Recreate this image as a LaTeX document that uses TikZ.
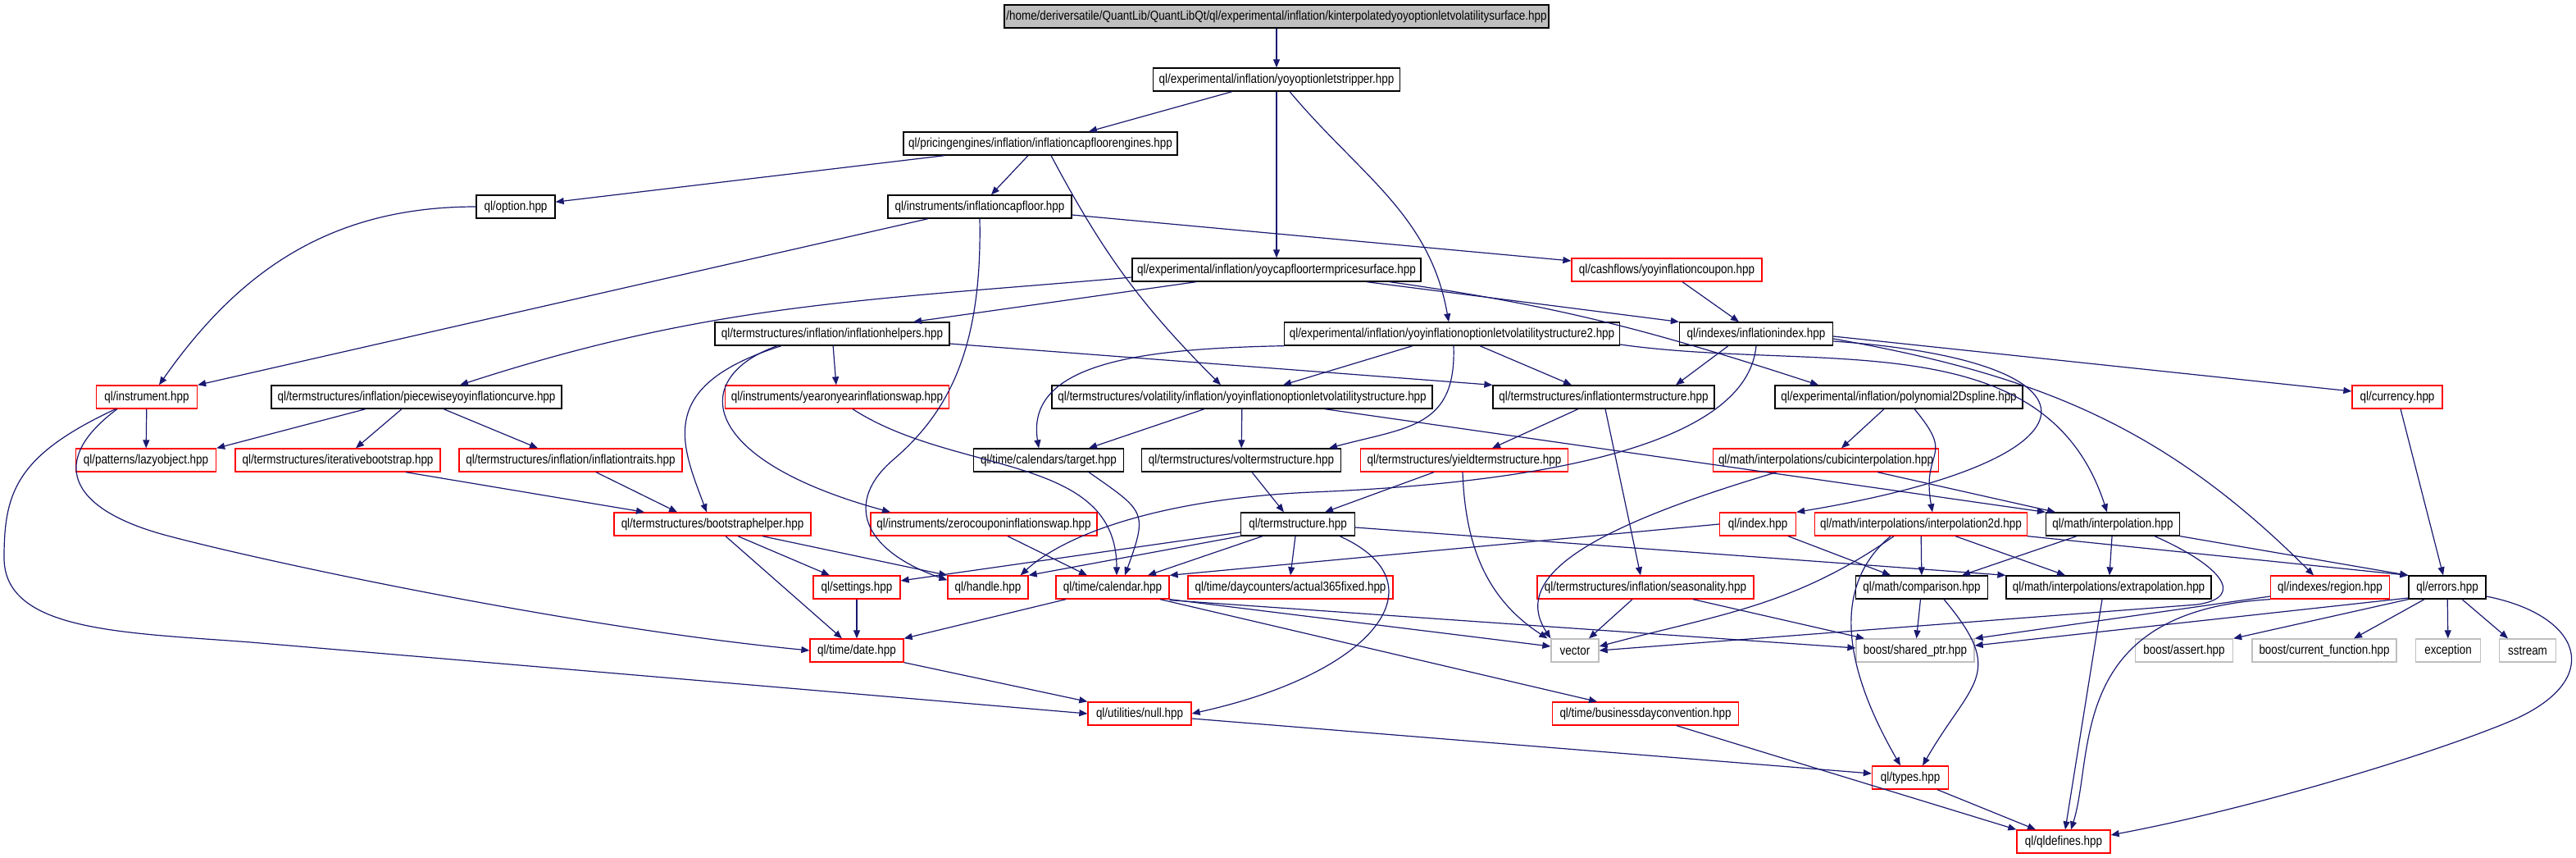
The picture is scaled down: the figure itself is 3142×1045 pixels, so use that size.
\documentclass[tikz,border=0pt]{standalone}
\usepackage{fontspec}
\setmainfont{Liberation Sans}[FakeStretch=0.85]
\usepackage{xcolor}
\definecolor{cEdge}{HTML}{191970}
\definecolor{cRed}{HTML}{FF0000}
\definecolor{cGray}{HTML}{BFBFBF}
\usetikzlibrary{arrows.meta}
\tikzset{
  node-file/.style={draw=black,line width=1.3pt,minimum height=28pt,inner sep=1pt,
    anchor=center,font=\fontsize{15.8}{18}\selectfont},
  % red frame: header with further includes not drawn; gray frame: system header
  node-red/.style={node-file,draw=cRed},
  node-sys/.style={node-file,draw=cGray},
  node-top/.style={node-file,fill=cGray},
  arrow/.style={-{Triangle[length=10pt,width=8pt]},line width=1.2pt,draw=cEdge},
}
\begin{document}
\begin{tikzpicture}[x=1pt,y=-1pt]
  \useasboundingbox (0,0) rectangle (3142,1045);
  \node[node-top,minimum width=664pt] (kinterp) at (1557,20) {/home/deriversatile/QuantLib/QuantLibQt/ql/experimental/inflation/kinterpolatedyoyoptionletvolatilitysurface.hpp};
  \node[node-file,minimum width=301pt] (stripper) at (1557,97) {ql/experimental/inflation/yoyoptionletstripper.hpp};
  \node[node-file,minimum width=334pt] (engines) at (1269,175) {ql/pricingengines/inflation/inflationcapfloorengines.hpp};
  \node[node-file,minimum width=96pt] (option) at (629,252) {ql/option.hpp};
  \node[node-file,minimum width=224pt] (capfloor) at (1195,252) {ql/instruments/inflationcapfloor.hpp};
  \node[node-file,minimum width=352pt] (cfsurf) at (1557,329) {ql/experimental/inflation/yoycapfloortermpricesurface.hpp};
  \node[node-red,minimum width=232pt] (coupon) at (2033,329) {ql/cashflows/yoyinflationcoupon.hpp};
  \node[node-file,minimum width=286pt] (helpers) at (1015,407) {ql/termstructures/inflation/inflationhelpers.hpp};
  \node[node-file,minimum width=409pt] (yoyvol2) at (1771,407) {ql/experimental/inflation/yoyinflationoptionletvolatilitystructure2.hpp};
  \node[node-file,minimum width=187pt] (inflindex) at (2142,407) {ql/indexes/inflationindex.hpp};
  \node[node-red,minimum width=123pt] (instrument) at (179,484) {ql/instrument.hpp};
  \node[node-file,minimum width=354pt] (piecewise) at (508,484) {ql/termstructures/inflation/piecewiseyoyinflationcurve.hpp};
  \node[node-red,minimum width=273pt] (yoyswap) at (1021,484) {ql/instruments/yearonyearinflationswap.hpp};
  \node[node-file,minimum width=464pt] (yoyvol) at (1515,484) {ql/termstructures/volatility/inflation/yoyinflationoptionletvolatilitystructure.hpp};
  \node[node-file,minimum width=270pt] (inflts) at (1956,484) {ql/termstructures/inflationtermstructure.hpp};
  \node[node-file,minimum width=302pt] (spline) at (2316,484) {ql/experimental/inflation/polynomial2Dspline.hpp};
  \node[node-red,minimum width=110pt] (currency) at (2924,484) {ql/currency.hpp};
  \node[node-red,minimum width=171pt] (lazy) at (178,561) {ql/patterns/lazyobject.hpp};
  \node[node-red,minimum width=250pt] (iterboot) at (412,561) {ql/termstructures/iterativebootstrap.hpp};
  \node[node-red,minimum width=272pt] (traits) at (696,561) {ql/termstructures/inflation/inflationtraits.hpp};
  \node[node-file,minimum width=183pt] (target) at (1279,561) {ql/time/calendars/target.hpp};
  \node[node-file,minimum width=243pt] (volts) at (1514,561) {ql/termstructures/voltermstructure.hpp};
  \node[node-red,minimum width=253pt] (yieldts) at (1786,561) {ql/termstructures/yieldtermstructure.hpp};
  \node[node-red,minimum width=275pt] (cubic) at (2227,561) {ql/math/interpolations/cubicinterpolation.hpp};
  \node[node-red,minimum width=240pt] (bshelper) at (869,639) {ql/termstructures/bootstraphelper.hpp};
  \node[node-red,minimum width=276pt] (zcswap) at (1200,639) {ql/instruments/zerocouponinflationswap.hpp};
  \node[node-file,minimum width=139pt] (ts) at (1583,639) {ql/termstructure.hpp};
  \node[node-red,minimum width=93pt] (index) at (2144,639) {ql/index.hpp};
  \node[node-red,minimum width=259pt] (interp2d) at (2343,639) {ql/math/interpolations/interpolation2d.hpp};
  \node[node-file,minimum width=163pt] (interp) at (2577,639) {ql/math/interpolation.hpp};
  \node[node-red,minimum width=106pt] (settings) at (1045,716) {ql/settings.hpp};
  \node[node-red,minimum width=98pt] (handle) at (1205,716) {ql/handle.hpp};
  \node[node-red,minimum width=138pt] (calendar) at (1357,716) {ql/time/calendar.hpp};
  \node[node-red,minimum width=250pt] (act365) at (1574,716) {ql/time/daycounters/actual365fixed.hpp};
  \node[node-red,minimum width=264pt] (season) at (2007,716) {ql/termstructures/inflation/seasonality.hpp};
  \node[node-file,minimum width=161pt] (compare) at (2344,716) {ql/math/comparison.hpp};
  \node[node-file,minimum width=250pt] (extrap) at (2572,716) {ql/math/interpolations/extrapolation.hpp};
  \node[node-red,minimum width=145pt] (region) at (2842,716) {ql/indexes/region.hpp};
  \node[node-file,minimum width=94pt] (errors) at (2985,716) {ql/errors.hpp};
  \node[node-red,minimum width=114pt] (date) at (1045,793) {ql/time/date.hpp};
  \node[node-sys,minimum width=58pt] (vector) at (1921,793) {vector};
  \node[node-sys,minimum width=144pt] (sharedptr) at (2336,793) {boost/shared\_ptr.hpp};
  \node[node-sys,minimum width=119pt] (assert) at (2664,793) {boost/assert.hpp};
  \node[node-sys,minimum width=176pt] (curfunc) at (2835,793) {boost/current\_function.hpp};
  \node[node-sys,minimum width=79pt] (exception) at (2986,793) {exception};
  \node[node-sys,minimum width=69pt] (sstream) at (3083,793) {sstream};
  \node[node-red,minimum width=126pt] (null) at (1390,870) {ql/utilities/null.hpp};
  \node[node-red,minimum width=227pt] (bdc) at (2007,870) {ql/time/businessdayconvention.hpp};
  \node[node-red,minimum width=93pt] (types) at (2330,948) {ql/types.hpp};
  \node[node-red,minimum width=114pt] (qldefines) at (2517,1026) {ql/qldefines.hpp};

  \draw[arrow] (kinterp) -- (stripper);
  \draw[arrow] ([xshift=-54pt]stripper.south) -- ([xshift=59pt]engines.north);
  \draw[arrow] (stripper) -- (cfsurf);
  \draw[arrow] ([xshift=16pt]stripper.south) to[out=-50,in=100] ([xshift=-4pt]yoyvol2.north);
  \draw[arrow] ([xshift=-117pt]engines.south) -- (option);
  \draw[arrow] ([xshift=-15pt]engines.south) -- ([xshift=14pt]capfloor.north);
  \draw[arrow] ([xshift=13pt]engines.south) to[out=-62,in=135] ([xshift=-26pt]yoyvol.north);
  \draw[arrow] ([xshift=-63pt]capfloor.south) -- (instrument.north east);
  \draw[arrow] (capfloor.south) .. controls (1198,420) and (1160,500) .. (1090,560)
    .. controls (1030,611) and (1050,670) .. ([yshift=-6pt]handle.north west);
  \draw[arrow] ([yshift=-10pt]capfloor.east) -- ([yshift=11pt]coupon.west);
  \draw[arrow] (option.west) to[out=180,in=55] ([xshift=15pt]instrument.north);
  \draw[arrow] ([yshift=-9pt]cfsurf.west) to[out=185,in=18] ([xshift=53pt]piecewise.north);
  \draw[arrow] ([xshift=-98pt]cfsurf.south) -- ([xshift=99pt]helpers.north);
  \draw[arrow] ([xshift=110pt]cfsurf.south) -- (inflindex.north west);
  \draw[arrow] ([xshift=138pt]cfsurf.south) to[out=-8,in=162] ([xshift=-98pt]spline.north);
  \draw[arrow] ([xshift=19pt]coupon.south) -- ([xshift=-21pt]inflindex.north);
  \draw[arrow] ([xshift=-62pt]helpers.south) .. controls (800,470) and (830,540) .. ([xshift=-7pt]bshelper.north);
  \draw[arrow] ([xshift=-67pt]helpers.south) .. controls (840,460) and (850,560) .. ([xshift=-114pt]zcswap.north);
  \draw[arrow] (helpers) -- (yoyswap);
  \draw[arrow] ([yshift=-12pt]helpers.east) -- (inflts.north west);
  \draw[arrow] ([xshift=-48pt]yoyvol2.south) -- ([xshift=50pt]yoyvol.north);
  \draw[arrow] (yoyvol2.south west) .. controls (1400,425) and (1250,440) .. ([xshift=-12pt]target.north);
  \draw[arrow] ([xshift=34pt]yoyvol2.south) -- ([xshift=-39pt]inflts.north);
  \draw[arrow] ([xshift=2pt]yoyvol2.south) to[out=-88,in=15,looseness=1.3] ([xshift=107pt]volts.north);
  \draw[arrow] ([yshift=-13pt]yoyvol2.east) to[out=-8,in=108] ([xshift=-7pt]interp.north);
  \draw[arrow] ([xshift=-46pt]yoyvol.south) -- ([xshift=49pt]target.north);
  \draw[arrow] (yoyvol) -- (volts);
  \draw[arrow] ([xshift=101pt]yoyvol.south) -- (interp.north west);
  \draw[arrow] ([xshift=-34pt]inflindex.south) -- ([xshift=88pt]inflts.north);
  \draw[arrow] (inflindex.south) .. controls (2130,550) and (1850,590) .. (1600,600)
    .. controls (1420,608) and (1300,650) .. ([xshift=-10pt]handle.north east);
  \draw[arrow] ([yshift=-3pt]inflindex.east) -- ([yshift=7pt]currency.west);
  \draw[arrow] ([yshift=-6pt]inflindex.east) to[out=-10,in=135] ([xshift=-20pt]region.north);
  \draw[arrow] ([yshift=-9pt]inflindex.east) .. controls (2580,440) and (2580,560) .. (index.north east);
  \draw[arrow] (instrument) -- (lazy);
  \draw[arrow] ([xshift=-36pt]instrument.south) .. controls (60,560) and (80,620) .. (204,653)
    .. controls (328,686) and (700,765) .. (date.west);
  \draw[arrow] ([xshift=-38pt]instrument.south) .. controls (20,555) and (5,600) .. (5,680)
    .. controls (5,770) and (150,771) .. (306,783) -- (null.west);
  \draw[arrow] ([xshift=-62pt]piecewise.south) -- (lazy.north east);
  \draw[arrow] ([xshift=-18pt]piecewise.south) -- ([xshift=22pt]iterboot.north);
  \draw[arrow] ([xshift=33pt]piecewise.south) -- ([xshift=-40pt]traits.north);
  \draw[arrow] ([xshift=83pt]iterboot.south) -- ([xshift=-83pt]bshelper.north);
  \draw[arrow] ([xshift=31pt]traits.south) -- ([xshift=-43pt]bshelper.north);
  \draw[arrow] ([xshift=19pt]yoyswap.south) to[out=-33,in=90] ([xshift=5pt]calendar.north);
  \draw[arrow] ([xshift=49pt]target.south) to[out=-35,in=70,looseness=1.6] ([xshift=15pt]calendar.north);
  \draw[arrow] ([xshift=29pt]zcswap.south) -- ([xshift=-31pt]calendar.north);
  \draw[arrow] ([xshift=31pt]bshelper.south) -- ([xshift=-33pt]settings.north);
  \draw[arrow] ([xshift=61pt]bshelper.south) -- (handle.north west);
  \draw[arrow] ([xshift=16pt]bshelper.south) -- ([xshift=-18pt]date.north);
  \draw[arrow] ([xshift=13pt]volts.south) -- ([xshift=-17pt]ts.north);
  \draw[arrow] ([yshift=-10pt]ts.west) -- ([yshift=8pt]settings.east);
  \draw[arrow] (ts.south west) -- (handle.north east);
  \draw[arrow] ([xshift=-43pt]ts.south) -- ([xshift=43pt]calendar.north);
  \draw[arrow] ([xshift=-3pt]ts.south) -- (act365.north);
  \draw[arrow] ([yshift=-4pt]ts.east) -- (extrap.north west);
  \draw[arrow] ([xshift=51pt]ts.south) .. controls (1760,710) and (1680,820) .. (null.east);
  \draw[arrow] ([xshift=-37pt]yieldts.south) -- ([xshift=33pt]ts.north);
  \draw[arrow] ([xshift=-2pt]yieldts.south) to[out=-88,in=147] ([xshift=-4pt]vector.north west);
  \draw[arrow] ([xshift=-31pt]inflts.south) -- ([xshift=34pt]yieldts.north);
  \draw[arrow] ([xshift=2pt]inflts.south) -- ([xshift=-6pt]season.north);
  \draw[arrow] ([xshift=-18pt]spline.south) -- ([xshift=19pt]cubic.north);
  \draw[arrow] ([xshift=19pt]spline.south) to[out=-50,in=100,looseness=1.6] ([xshift=14pt]interp2d.north);
  \draw[arrow] ([xshift=63pt]cubic.south) -- ([xshift=-70pt]interp.north);
  \draw[arrow] ([xshift=-60pt]cubic.south) .. controls (1950,640) and (1840,700) .. (vector.north west);
  \draw[arrow] (index.west) -- (calendar.north east);
  \draw[arrow] ([xshift=37pt]index.south) -- ([xshift=-38pt]compare.north);
  \draw[arrow] (interp2d) -- (compare);
  \draw[arrow] ([xshift=42pt]interp2d.south) -- ([xshift=-53pt]extrap.north);
  \draw[arrow] (interp2d.south east) -- (errors.north west);
  \draw[arrow] ([xshift=-33pt]interp2d.south) to[out=215,in=15] ([yshift=5pt]vector.east);
  \draw[arrow] ([xshift=-37pt]interp2d.south) to[out=220,in=120] ([xshift=-12pt]types.north);
  \draw[arrow] ([xshift=-44pt]interp.south) -- ([xshift=49pt]compare.north);
  \draw[arrow] (interp) -- (extrap);
  \draw[arrow] (interp.south east) -- (errors.north west);
  \draw[arrow] ([xshift=51pt]interp.south) .. controls (2710,690) and (2740,728) .. (2680,737) -- (vector.east);
  \draw[arrow] ([xshift=-16pt]season.south) -- ([xshift=17pt]vector.north);
  \draw[arrow] ([xshift=58pt]season.south) -- ([xshift=-62pt]sharedptr.north);
  \draw[arrow] ([xshift=-57pt]calendar.south) -- (date.north east);
  \draw[arrow] (calendar.south east) -- ([yshift=5pt]vector.west);
  \draw[arrow] ([yshift=-1pt]calendar.south east) -- ([yshift=3pt]sharedptr.west);
  \draw[arrow] ([xshift=58pt]calendar.south) -- ([xshift=-59pt]bdc.north);
  \draw[arrow] (date.south east) -- (null.north west);
  \draw[arrow] (settings) -- (date);
  \draw[arrow] ([yshift=-6pt]null.east) -- ([yshift=5pt]types.west);
  \draw[arrow] ([xshift=38pt]bdc.south) -- (qldefines.north west);
  \draw[arrow] ([xshift=33pt]types.south) -- ([xshift=-34pt]qldefines.north);
  \draw[arrow] (compare) -- (sharedptr);
  \draw[arrow] ([xshift=27pt]compare.south) to[out=-50,in=60,looseness=1.5] ([xshift=15pt]types.north);
  \draw[arrow] ([xshift=-8pt]extrap.south) -- ([xshift=2pt]qldefines.north);
  \draw[arrow] ([yshift=-11pt]region.west) -- (sharedptr.north east);
  \draw[arrow] (region.south west) .. controls (2520,745) and (2555,920) .. ([xshift=9pt]qldefines.north);
  \draw[arrow] ([yshift=-13pt]errors.west) -- ([yshift=6pt]sharedptr.east);
  \draw[arrow] (errors.south west) -- (assert.north east);
  \draw[arrow] ([xshift=-28pt]errors.south) -- ([xshift=36pt]curfunc.north);
  \draw[arrow] (errors) -- (exception);
  \draw[arrow] ([xshift=18pt]errors.south) -- ([xshift=-24pt]sstream.north);
  \draw[arrow] ([yshift=-11pt]errors.east) .. controls (3150,750) and (3180,830) .. (3060,880)
    .. controls (2964,920) and (2750,985) .. ([yshift=8pt]qldefines.east);
  \draw[arrow] ([xshift=4pt]currency.south) -- ([xshift=-5pt]errors.north);
\end{tikzpicture}
\end{document}
